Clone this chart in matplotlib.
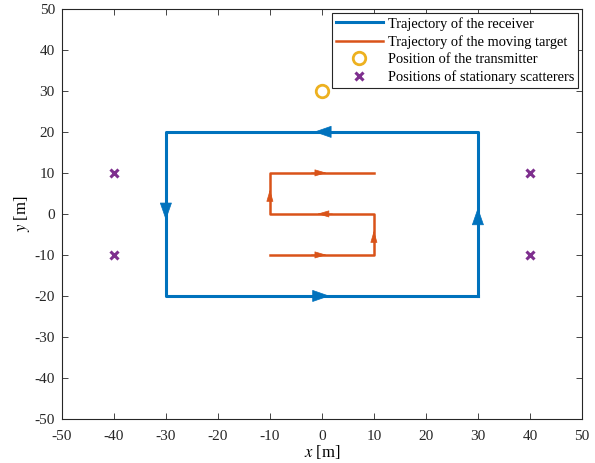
import numpy as np
import matplotlib
matplotlib.use("Agg")
import matplotlib.pyplot as plt

plt.rcParams['font.family'] = ['Liberation Serif', 'DejaVu Serif']
plt.rcParams['mathtext.fontset'] = 'stix'
plt.rcParams['axes.unicode_minus'] = False

# receiver trajectory (clockwise rectangle)
rx_x = [30, 30, -30, -30, 30]
rx_y = [-20, 20, 20, -20, -20]
# moving target trajectory (S shape)
tg_x = [-10, 10, 10, -10, -10, 10]
tg_y = [-10, -10, 0, 0, 10, 10]
# transmitter
tx_x = [0]
tx_y = [30]
# stationary scatterers
sc_x = [-40, -40, 40, 40]
sc_y = [10, -10, 10, -10]

blue = '#0072BD'
orange = '#D95319'
yellow = '#EDB120'
purple = '#7E2F8E'

fig = plt.figure(figsize=(5.95, 4.63), dpi=100)
ax = fig.add_axes([0.104, 0.095, 0.874, 0.886])

ax.plot(rx_x, rx_y, color=blue, lw=2.2, label='Trajectory of the receiver')
ax.plot(tg_x, tg_y, color=orange, lw=1.8, label='Trajectory of the moving target')
ax.plot(tx_x, tx_y, 'o', ms=9, mfc='none', mec=yellow, mew=2,
        label='Position of the transmitter')
ax.plot(sc_x, sc_y, 'x', ms=6, mec=purple, mew=2.2,
        label='Positions of stationary scatterers')


def add_arrows(xs, ys, color, ahead, hl, hw):
    # arrow at the middle of every segment, pointing along the path
    for i in range(len(xs) - 1):
        x0, y0, x1, y1 = xs[i], ys[i], xs[i + 1], ys[i + 1]
        mx, my = (x0 + x1) / 2, (y0 + y1) / 2
        dx, dy = np.sign(x1 - x0), np.sign(y1 - y0)
        tip = (mx + dx * ahead, my + dy * ahead)
        tail = (mx - dx * 2, my - dy * 2)
        style = '-|>,head_length=%g,head_width=%g' % (hl, hw)
        ax.annotate('', xy=tip, xytext=tail,
                    arrowprops=dict(arrowstyle=style, color=color, lw=0.5,
                                    mutation_scale=10, shrinkA=0, shrinkB=0))


add_arrows(rx_x, rx_y, blue, 1.5, 1.15, 0.4)
add_arrows(tg_x, tg_y, orange, 0.9, 0.75, 0.22)

ax.set_xlim(-50, 50)
ax.set_ylim(-50, 50)
ax.set_xticks(np.arange(-50, 51, 10))
ax.set_yticks(np.arange(-50, 51, 10))
ax.tick_params(direction='in', top=True, right=True, labelsize=11,
               length=4, width=0.6, colors='#262626', pad=5)
ax.tick_params(axis='x', pad=8)
for s in ax.spines.values():
    s.set_linewidth(0.8)
    s.set_color('#262626')
ax.set_xlabel('$x$ [m]', fontsize=12, labelpad=0)
ax.set_ylabel('$y$ [m]', fontsize=12, labelpad=2)

leg = ax.legend(loc='upper right', fontsize=10.4, fancybox=False,
                edgecolor='#262626', framealpha=1, borderpad=0.25,
                handlelength=3.3, handletextpad=0.3, labelspacing=0.3,
                borderaxespad=0.3)
leg.get_frame().set_linewidth(0.8)

fig.savefig('out.png', dpi=100)
